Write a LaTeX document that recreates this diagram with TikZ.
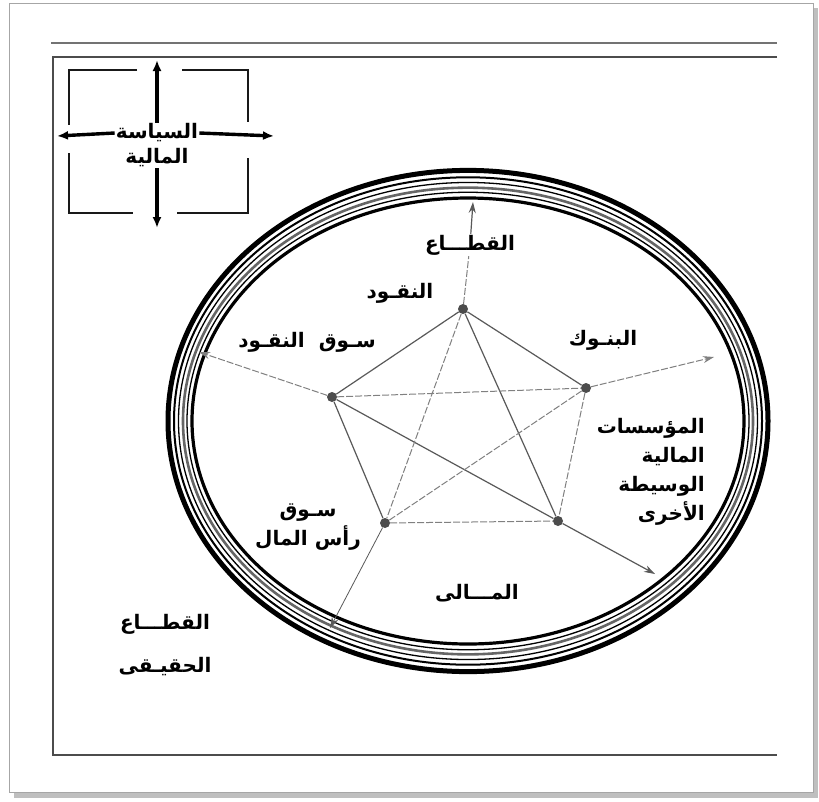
\documentclass[tikz,border=0pt]{standalone}
\usepackage{fontspec}
\usetikzlibrary{arrows.meta}
\TeXXeTstate=1
\newfontfamily\arabicfont[Script=Arabic]{DejaVu Sans}
\newcommand{\rtl}[1]{\beginR #1\endR}
\tikzset{
    lbl/.style={font=\arabicfont\bfseries\fontsize{20}{29}\selectfont, inner sep=1pt, align=center},
    dot/.style={circle, fill=black!70, inner sep=0pt, minimum size=10pt},
    link/.style={draw=black!65, line width=1.2pt},
    dlink/.style={draw=black!50, line width=1pt, dash pattern=on 7pt off 2pt},
    arr/.style={-{Stealth[length=11pt,width=7pt]}},
    bigarr/.style={line width=3.4pt, -{Latex[length=11pt,width=9pt]}},
    brk/.style={line width=2.6pt, black!90}
}
\begin{document}
\begin{tikzpicture}[x=1pt,y=-1pt]
    \useasboundingbox (0,0) rectangle (819,801);
    \fill[white] (0,0) rectangle (819,801);
    \fill[black!25] (14,8) rectangle (818,798);
    \filldraw[fill=white, draw=black!35] (9,3) rectangle (813,792);

    \draw[black!55, line width=1.6pt] (51,43) -- (777,43);
    \draw[black!70, line width=1.8pt] (777,57) -- (53,57) -- (53,755) -- (777,755);

    \node[lbl] (polA) at (157,133) {\rtl{السياسة}};
    \node[lbl] (polB) at (157,158) {\rtl{المالية}};
    \coordinate (polU) at (157,60);
    \coordinate (polD) at (157,228);
    \coordinate (polL) at (57,136);
    \coordinate (polR) at (274,136);
    \draw[bigarr] (polA.north) -- (polU);
    \draw[bigarr] (polB.south) -- (polD);
    \draw[bigarr] (polA.west) -- (polL);
    \draw[bigarr] (polA.east) -- (polR);
    \draw[brk] (137,70) -- (69,70) -- (69,125);
    \draw[brk] (182,70) -- (248,70) -- (248,122);
    \draw[brk] (69,153) -- (69,213) -- (133,213);
    \draw[brk] (248,158) -- (248,213) -- (177,213);

    \foreach \d/\w/\c in {0/3.2pt/black, 5/1.3pt/black, 9/2.6pt/black!60, 13.5/1.3pt/black, 18/2pt/black, 24/5pt/black}{
      \draw[line width=\w, \c] (468,421) ellipse [x radius={276+\d}, y radius={223+1.15*\d}];
    }

    \node[dot] (nqd) at (463,309) {};
    \node[dot] (bnk) at (586,388) {};
    \node[dot] (sqn) at (332,397) {};
    \node[dot] (ras) at (385,523) {};
    \node[dot] (mus) at (558,521) {};
    \foreach \a/\b/\s in {nqd/sqn/link, nqd/bnk/link, nqd/mus/link, sqn/ras/link,
        sqn/mus/link, nqd/ras/dlink, sqn/bnk/dlink, ras/bnk/dlink, ras/mus/dlink, bnk/mus/dlink}{
      \draw[\s] (\a) -- (\b);
    }

    \node[lbl] (sectop) at (470,245) {\rtl{القطـــاع}};
    \coordinate (tipT) at (473,202);
    \coordinate (tipR) at (714,357);
    \coordinate (tipL) at (199,352);
    \coordinate (tipBR) at (655,574);
    \coordinate (tipBL) at (330,628);
    \draw[dlink] (nqd) -- (sectop);
    \draw[link,arr] (sectop) -- (tipT);
    \draw[dlink,arr] (bnk) -- (tipR);
    \draw[dlink,arr] (sqn) -- (tipL);
    \draw[link,arr] (mus) -- (tipBR);
    \draw[link,arr,line width=0.8pt] (ras) -- (tipBL);

    \node[lbl] (nqdL) at (400,293) {\rtl{النقـود}};
    \node[lbl] (bnkL) at (603,340) {\rtl{البنـوك}};
    \node[lbl] (sqnL) at (307,342) {\rtl{سـوق\ \ النقـود}};
    \node[lbl] (rasL) at (308,527) {\rtl{سـوق}\\\rtl{رأس المال}};
    \node[lbl, align=right, anchor=east] (musL) at (706,472) {\rtl{المؤسسات}\\\rtl{المالية}\\\rtl{الوسيطة}\\\rtl{الأخرى}};
    \node[lbl] (malL) at (477,593) {\rtl{المـــالى}};
    \node[lbl] (realL) at (165,645) {\rtl{القطـــاع}\\[14pt]\rtl{الحقيـقى}};
\end{tikzpicture}
\end{document}
